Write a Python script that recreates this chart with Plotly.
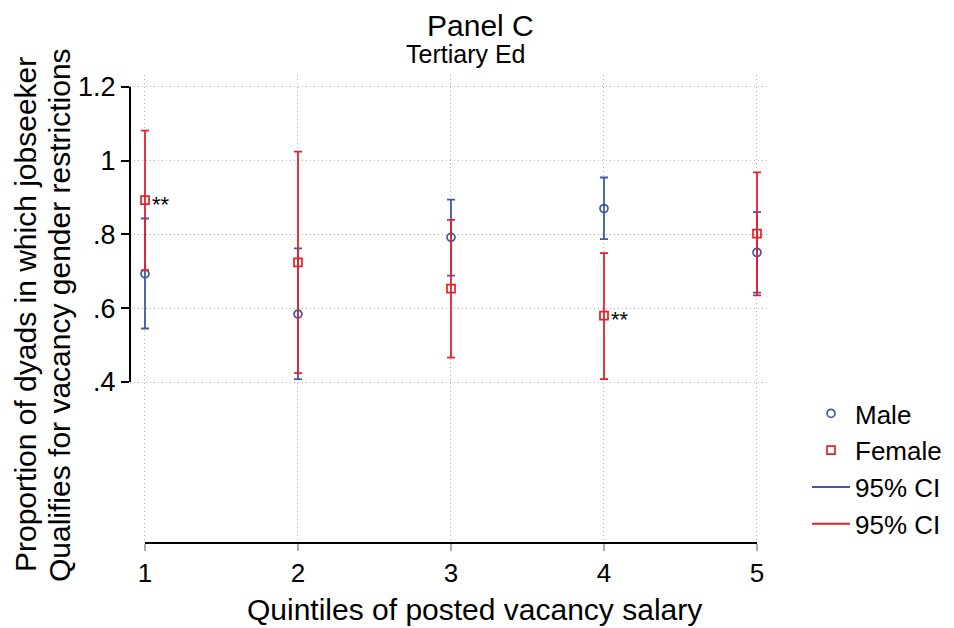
import plotly.graph_objects as go

quintiles = [1, 2, 3, 4, 5]
male_mean = [0.693, 0.584, 0.792, 0.870, 0.751]
male_lo = [0.545, 0.408, 0.688, 0.787, 0.642]
male_hi = [0.843, 0.762, 0.894, 0.954, 0.860]
female_mean = [0.893, 0.724, 0.653, 0.580, 0.802]
female_lo = [0.703, 0.424, 0.466, 0.408, 0.635]
female_hi = [1.081, 1.024, 0.839, 0.749, 0.968]
stars = ["**", "", "", "**", ""]
y_ticks = [0.4, 0.6, 0.8, 1.0, 1.2]
y_tick_labels = [".4", ".6", ".8", "1", "1.2"]
y_title_lines = ["Proportion of dyads in which jobseeker",
                 "Qualifies for vacancy gender restrictions"]
x_title = "Quintiles of posted vacancy salary"

BLUE = "#3c5ba8"
RED = "#e8202a"
FONT = "Liberation Sans, Arial, sans-serif"

# plot-area geometry (px)
L, R, T, B = 130, 954 - 770, 75, 628 - 543
PW, PH = 954 - L - R, 628 - T - B

fig = go.Figure()

def add_series(name, mean, lo, hi, color, symbol):
    fig.add_trace(go.Scatter(
        x=quintiles, y=mean, mode="markers", name=name,
        marker=dict(symbol=symbol, size=8, color=color, line=dict(color=color, width=1.7)),
        error_y=dict(type="data", symmetric=False,
                     array=[h - m for h, m in zip(hi, mean)],
                     arrayminus=[m - l for m, l in zip(mean, lo)],
                     color=color, thickness=1.8, width=4),
    ))

add_series("Male", male_mean, male_lo, male_hi, BLUE, "circle-open")
add_series("Female", female_mean, female_lo, female_hi, RED, "square-open")

for color in (BLUE, RED):
    fig.add_trace(go.Scatter(x=[None], y=[None], mode="lines", name="95% CI",
                             line=dict(color=color, width=2)))

for xq, yq, s in zip(quintiles, female_mean, stars):
    if s:
        fig.add_annotation(x=xq, y=yq, text=s, showarrow=False, xanchor="left",
                           yanchor="middle", xshift=5, yshift=-4,
                           font=dict(size=22, color="black", family=FONT))

# titles
fig.add_annotation(xref="paper", yref="paper", x=(480 - L) / PW, y=1 + (T - 26) / PH,
                   text="Panel C", showarrow=False, xanchor="center", yanchor="middle",
                   font=dict(size=30, family=FONT, color="black"))
fig.add_annotation(xref="paper", yref="paper", x=(465 - L) / PW, y=1 + (T - 54.5) / PH,
                   text="Tertiary Ed", showarrow=False, xanchor="center", yanchor="middle",
                   font=dict(size=25, family=FONT, color="black"))

# x-axis title
fig.add_annotation(xref="paper", yref="paper", x=(474 - L) / PW, y=-(609 - 543) / PH,
                   text=x_title, showarrow=False, xanchor="center", yanchor="middle",
                   font=dict(size=30, family=FONT, color="black"))

# y-axis title, two lines
for xc, line in zip((25, 59), y_title_lines):
    fig.add_annotation(xref="paper", yref="paper", x=(xc - L) / PW, y=(543 - 315) / PH,
                       text=line, textangle=-90, showarrow=False,
                       xanchor="center", yanchor="middle",
                       font=dict(size=30, family=FONT, color="black"))

# Stata-style axis lines spanning only the labelled range
fig.add_shape(type="line", xref="paper", yref="y", x0=0, x1=0, y0=0.4, y1=1.2,
              line=dict(color="black", width=2))
fig.add_shape(type="line", xref="x", yref="paper", x0=1, x1=5, y0=0, y1=0,
              line=dict(color="black", width=2))

fig.update_layout(
    width=954, height=628,
    margin=dict(l=L, r=R, t=T, b=B, autoexpand=False),
    paper_bgcolor="white", plot_bgcolor="white",
    font=dict(family=FONT, color="black"),
    legend=dict(x=(807 - L) / PW, xanchor="left", y=(543 - 390) / PH, yanchor="top",
                font=dict(size=26, family=FONT), tracegroupgap=0, itemwidth=38,
                bgcolor="rgba(0,0,0,0)"),
    showlegend=True,
)

GRID = dict(showgrid=True, gridcolor="#b4b4b4", griddash="1px,3px", gridwidth=1)

fig.update_xaxes(range=[0.902, 5.085], tickvals=quintiles,
                 ticktext=[str(q) for q in quintiles],
                 showline=False, zeroline=False, automargin=False, **GRID,
                 ticks="outside", ticklen=7, tickcolor="#aaaaaa", tickwidth=1.5,
                 tickfont=dict(size=26, family=FONT))

fig.update_yaxes(range=[-0.036, 1.2317], tickvals=y_ticks, ticktext=y_tick_labels,
                 showline=False, zeroline=False, automargin=False, **GRID,
                 ticks="outside", ticklen=8, tickcolor="black", tickwidth=1.5,
                 tickfont=dict(size=27, family=FONT))

fig.write_html("out.html", config={"displayModeBar": False},
               post_script="document.body.style.margin='0';document.body.style.overflow='hidden';")
